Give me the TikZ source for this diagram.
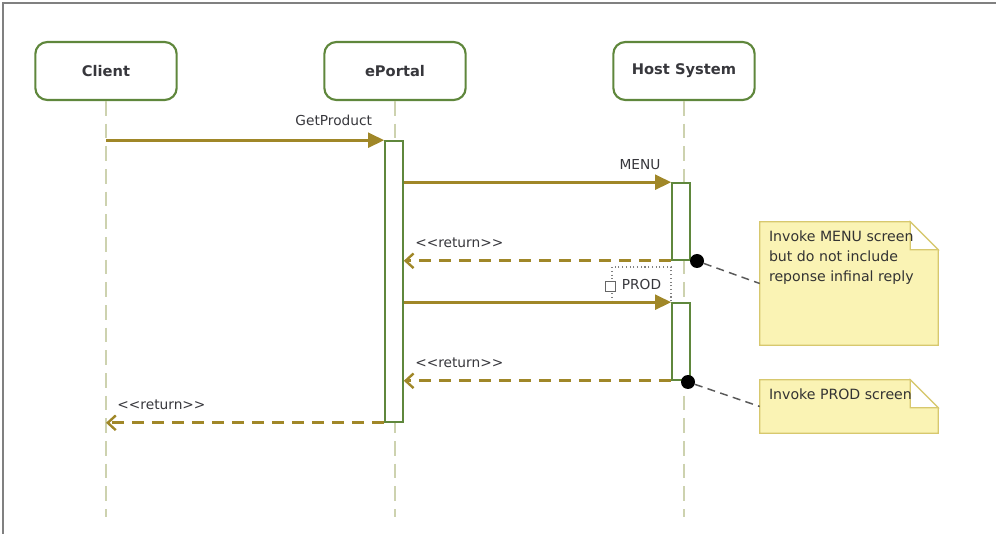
\documentclass[tikz,border=0pt]{standalone}
\usepackage{fontspec}
\newfontfamily\diagfont{DejaVu Sans}
\usepackage{tikz}
\usetikzlibrary{arrows.meta,positioning,calc}
\definecolor{lifegreen}{RGB}{95,135,60}
\definecolor{msgolive}{RGB}{160,135,40}
\definecolor{dashline}{RGB}{205,210,175}
\definecolor{notefill}{RGB}{250,243,180}
\definecolor{noteedge}{RGB}{215,200,110}
\definecolor{txtgray}{RGB}{55,55,60}

\begin{document}
\begin{tikzpicture}[
    x=0.75pt, y=-0.75pt,
    font=\diagfont\fontsize{10.3}{15}\selectfont, text=txtgray,
    actor/.style={rectangle, draw=lifegreen, line width=1.6pt, rounded corners=9pt, fill=white, minimum width=106pt, minimum height=43.5pt, font=\diagfont\fontsize{11}{12}\selectfont\bfseries},
    lifeline/.style={dashline, line width=1.2pt, dash pattern=on 11pt off 6pt},
    act/.style={rectangle, draw=lifegreen, line width=1.2pt, fill=white, minimum width=13.5pt, inner sep=0pt},
    call/.style={msgolive, line width=2.2pt, -{Triangle[length=12pt,width=11pt]}},
    reply/.style={msgolive, line width=2.2pt, dash pattern=on 9pt off 6pt, -{Straight Barb[length=6pt,width=11pt,line width=1.8pt]}},
    msglabel/.style={inner sep=0pt, text=txtgray},
    dotmark/.style={circle, fill=black, minimum size=10.5pt, inner sep=0pt},
    note/.style={rectangle, minimum width=133.5pt, inner sep=0pt},
    notetext/.style={anchor=north west, align=left, inner sep=0pt, text=black!80, font=\diagfont\fontsize{10.6}{15}\selectfont},
    notelink/.style={black!65, line width=1.1pt, dash pattern=on 6pt off 4pt}
]
    \useasboundingbox (0,0) rectangle (996,534);

    % Frame
    \draw[gray, line width=1.2pt] (3,534) -- (3,3) -- (996,3);

    % Lifelines
    \node[actor] (client) at (106,71) {Client};
    \node[actor] (portal) at (395,71) {ePortal};
    \node[actor] (host) at (684,71) {Host System};
    \foreach \who in {client,portal,host}
        \draw[lifeline] (\who.south) -- ++(0,416);

    % Activations
    \node[act, minimum height=210.75pt] (actPortal) at (394,281.5) {};
    \node[act, minimum height=57.75pt] (actMenu) at (681,221.5) {};
    \node[act, minimum height=57.75pt] (actProd) at (681,341.5) {};

    % PROD tag
    \node[draw=gray, dotted, thick, fill=white, minimum width=44.25pt, minimum height=26.25pt, inner sep=0pt] (prodTag) at (641.5,284.5) {PROD};
    \node[draw=gray!80!black, fill=white, minimum size=7.5pt, inner sep=0pt] (prodIcon) at ([xshift=-0.75pt,yshift=-1pt]prodTag.west) {};

    % Messages
    \draw[call] (client.south |- actPortal.north) -- node[msglabel, at end, anchor=south east, xshift=-8pt, yshift=9.5pt] {GetProduct} (actPortal.north west);
    \draw[call] (actPortal.east |- actMenu.north) -- node[msglabel, at end, anchor=south east, xshift=-7pt, yshift=8.5pt] {MENU} (actMenu.north west);
    \draw[reply] (actMenu.south west) -- node[msglabel, at end, anchor=south west, xshift=7.5pt, yshift=8.5pt] {<<return>>} (actPortal.east |- actMenu.south);
    \draw[call] (actPortal.east |- actProd.north) -- (actProd.north west);
    \draw[reply] (actProd.south west) -- node[msglabel, at end, anchor=south west, xshift=7.5pt, yshift=8.5pt] {<<return>>} (actPortal.east |- actProd.south);
    \draw[reply] (actPortal.south west) -- node[msglabel, at end, anchor=south west, xshift=7.5pt, yshift=8.5pt] {<<return>>} (client.south |- actPortal.south);

    % Notes
    \node[dotmark] (dotMenu) at (697,261) {};
    \node[dotmark] (dotProd) at (688,382) {};
    \node[note, minimum height=92.25pt] (noteMenu) at (849,283.5) {};
    \node[note, minimum height=39.75pt] (noteProd) at (849,406.5) {};
    \foreach \n in {noteMenu,noteProd} {
        \draw[noteedge, fill=notefill, line width=0.9pt] (\n.north west) -- ([xshift=-21pt]\n.north east) -- ([yshift=-21pt]\n.north east) -- (\n.south east) -- (\n.south west) -- cycle;
        \draw[noteedge, fill=white, line width=0.9pt] ([xshift=-21pt]\n.north east) -- ([xshift=-21pt,yshift=-21pt]\n.north east) -- ([yshift=-21pt]\n.north east) -- cycle;
    }
    \node[notetext] (textMenu) at ([shift={(9,9)}]noteMenu.north west) {Invoke MENU screen\\but do not include\\reponse infinal reply};
    \node[notetext] (textProd) at ([shift={(9,9)}]noteProd.north west) {Invoke PROD screen};
    \draw[notelink] (dotMenu) -- (noteMenu.west);
    \draw[notelink] (dotProd) -- (noteProd.west);

\end{tikzpicture}
\end{document}
